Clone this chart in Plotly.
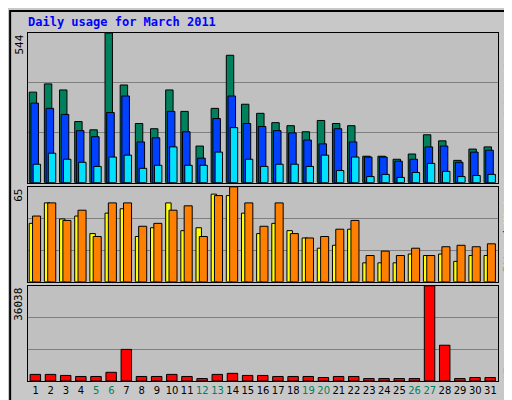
import plotly.graph_objects as go

days = list(range(1, 32))
weekend = [5, 6, 12, 13, 19, 20, 26, 27]
hits_y = [202,178,196,289,313,28,181,295,310,196,259,361,250,94,238,265,292,301,319,286,295,301,391,391,400,385,328,346,403,370,364]
files_y = [235,250,268,316,334,262,214,349,337,259,319,397,280,214,295,304,316,322,343,355,310,349,394,394,406,400,364,361,409,379,373]
pages_y = [415,382,400,409,421,394,388,427,418,364,418,418,379,307,400,421,415,415,421,388,433,394,451,445,454,439,412,436,451,448,445]
sites_y = [136,73,121,112,163,103,91,172,145,76,154,145,49,52,103,163,136,154,175,208,196,151,247,247,247,223,226,223,244,229,226]
visits_y = [115,76,124,94,172,76,73,142,136,94,82,172,55,28,76,142,76,163,178,172,151,127,229,214,226,205,226,202,196,202,193]
kb_y = [583,583,586,589,589,577,511,589,589,583,589,595,583,580,586,586,589,589,589,592,589,589,595,595,595,595,328,499,595,592,592]

HMAX, SVMAX, KMAX = 544, 65, 36038
hits = [round((469 - v) / 441 * HMAX) for v in hits_y]
files = [round((469 - v) / 441 * HMAX) for v in files_y]
pages = [round((469 - v) / 441 * HMAX) for v in pages_y]
sites = [round((304 - v) / 276 * SVMAX) for v in sites_y]
visits = [round((304 - v) / 276 * SVMAX) for v in visits_y]
kbytes = [round((602 - v) / 274 * KMAX) for v in kb_y]

fig = go.Figure()
line = dict(color="black", width=1)
def bar(y, color, off, w, ax):
    fig.add_trace(go.Bar(x=days, y=y, marker=dict(color=color, line=line),
                         offset=off, width=w, xaxis="x" + ax if ax != "1" else "x",
                         yaxis="y" + ax if ax != "1" else "y", hoverinfo="y"))
bar(hits, "#00805C", -0.42, 0.49, "1")
bar(files, "#0040FF", -0.31, 0.50, "1")
bar(pages, "#00E0FF", -0.16, 0.49, "1")
bar(sites, "#FFFF00", -0.42, 0.36, "2")
bar(visits, "#FF8000", -0.2, 0.53, "2")
bar(kbytes, "#FF0000", -0.36, 0.69, "3")

ticktext = [f"<span style='color:#008060'>{d}</span>" if d in weekend else str(d) for d in days]
xcommon = dict(range=[0.5, 31.5], showgrid=False, zeroline=False, showline=True,
               linecolor="black", mirror=True, ticks="", fixedrange=True)
def ycommon(mx, dom):
    return dict(range=[0, mx], domain=dom, tickvals=[mx / 3, 2 * mx / 3], showticklabels=False,
                gridcolor="#808080", gridwidth=1, zeroline=False, showline=True,
                linecolor="black", mirror=True, ticks="")
rfont = dict(size=10, family="DejaVu Sans Mono")
fig.update_layout(
    width=512, height=400, barmode="overlay", showlegend=False,
    paper_bgcolor="#C8C8C8", plot_bgcolor="#C0C0C0",
    margin=dict(l=20, r=22, t=25, b=24),
    font=dict(family="DejaVu Sans Mono", size=11, color="black"),
    xaxis=dict(xcommon, anchor="y", showticklabels=False),
    xaxis2=dict(xcommon, anchor="y2", showticklabels=False),
    xaxis3=dict(xcommon, anchor="y3", tickvals=days, ticktext=ticktext, tickangle=0,
                tickfont=dict(family="DejaVu Sans", size=10)),
    yaxis=ycommon(HMAX, [0.570, 1.0]),
    yaxis2=ycommon(SVMAX, [0.285, 0.558]),
    yaxis3=ycommon(KMAX, [0.0, 0.2735]),
    annotations=[
        dict(text="<b>Daily usage for March 2011</b>", x=0, y=1, xref="paper", yref="paper",
             xshift=-2, yshift=20, xanchor="left", yanchor="top", showarrow=False,
             font=dict(color="#0000FF", size=12, family="DejaVu Sans Mono")),
        dict(text=str(HMAX), x=0, y=1, xref="paper", yref="paper", textangle=-90,
             xanchor="right", yanchor="top", showarrow=False, xshift=-1),
        dict(text=str(SVMAX), x=0, y=0.558, xref="paper", yref="paper", textangle=-90,
             xanchor="right", yanchor="top", showarrow=False, xshift=-1),
        dict(text=str(KMAX), x=0, y=0.2735, xref="paper", yref="paper", textangle=-90,
             xanchor="right", yanchor="top", showarrow=False, xshift=-1),
        dict(text="<span style='color:#00E0FF'>Pages</span> / <span style='color:#0040FF'>Files</span> / <span style='color:#00805C'>Hits</span>",
             x=1, y=1, xref="paper", yref="paper", textangle=-90, xanchor="left",
             yanchor="top", showarrow=False, xshift=2, font=rfont),
        dict(text="<span style='color:#FF8000'>Sites</span> / <span style='color:#FFFF00'>Visits</span>",
             x=1, y=0.558, xref="paper", yref="paper", textangle=-90, xanchor="left",
             yanchor="top", showarrow=False, xshift=2, font=rfont),
        dict(text="<span style='color:#FF0000'>KBytes</span>",
             x=1, y=0, xref="paper", yref="paper", textangle=-90, xanchor="left",
             yanchor="bottom", showarrow=False, xshift=2, font=rfont),
    ],
    shapes=[
        dict(type="rect", xref="paper", yref="paper", x0=-0.038, x1=1.04, y0=-0.06, y1=1.063,
             line=dict(color="black", width=2), layer="below"),
    ],
)
fig.write_html("out.html")
